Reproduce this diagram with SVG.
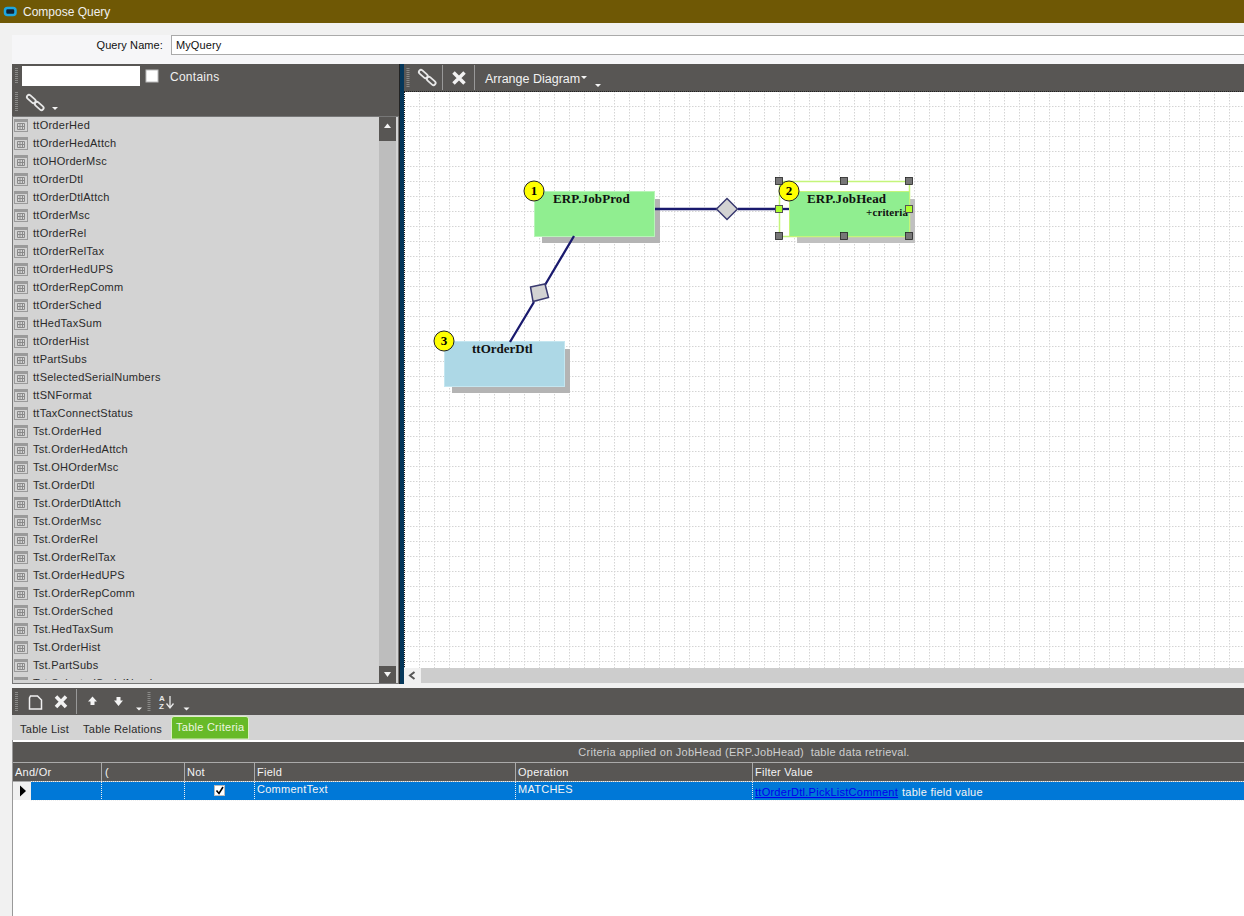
<svg xmlns="http://www.w3.org/2000/svg" width="1244" height="916" viewBox="0 0 1244 916">
<style>
text{font-family:"Liberation Sans",Arial,sans-serif;font-size:11px;fill:#111;letter-spacing:.26px;white-space:pre}
.w{fill:#f4f4f4}
.t{fill:#2a2a2a;font-size:11px}
.n{font-family:"Liberation Serif","Times New Roman",serif;font-size:13px;font-weight:bold;fill:#111;letter-spacing:.12px}
.b{font-family:"Liberation Serif","Times New Roman",serif;font-size:13px;font-weight:bold;text-anchor:middle;fill:#000;letter-spacing:0}
.h{fill:#777;stroke:#222;stroke-width:.8}
.c{stroke:#1a1a6e;stroke-width:2.300;fill:none}
.d{fill:#d3d3d3;stroke:#3a3a70;stroke-width:1.500}
.sep{stroke:#999;stroke-width:1}
.grip{stroke:#8a8a88;stroke-width:3;stroke-dasharray:1 1;fill:none}
.cell{stroke:#eee;stroke-width:1;stroke-dasharray:1 1}
.tri{fill:#f4f4f4}
</style>
<defs>
<pattern id="grid" x="404" y="91" width="15" height="15" patternUnits="userSpaceOnUse">
<path d="M.5 0V15M0 .5H15" fill="none" stroke="#d4d4d4" stroke-width="1" stroke-dasharray="1.500 1.500"/>
</pattern>
<filter id="soft" x="-10%" y="-10%" width="120%" height="120%"><feGaussianBlur stdDeviation=".5"/></filter>
<g id="ti">
<rect x="14.500" y="-5.500" width="13" height="12" fill="#d3d3d3" stroke="#9a9a9a"/>
<rect x="15" y="-5" width="12" height="2" fill="#9a9a9a"/>
<path d="M17.500 -1.500H24.500V4.500H17.500ZM17.500 1.500H24.500M20 -1.500V4.500M22.500 -1.500V4.500" fill="none" stroke="#8a8a8a" stroke-width="1"/>
</g>
<g id="lnk">
<path d="M-6 -5L-1.500 -1M2 2L6.500 6" stroke="#e8e8e8" stroke-width="6" stroke-linecap="round" fill="none"/>
<path d="M-6 -5L-1.500 -1M2 2L6.500 6" stroke="#585654" stroke-width="2.400" stroke-linecap="round" fill="none"/>
</g>
</defs>

<g id="background">
<rect width="1244" height="916" fill="#f1f1f1"/>
<rect y="0" width="1244" height="23" fill="#6f5805"/>
<rect x="5" y="8" width="10.500" height="7" rx="2.500" fill="#123" stroke="#1ea7e0" stroke-width="2.500"/>
<text x="23" y="16" style="fill:#f0f0f0;font-size:12px;letter-spacing:0">Compose Query</text>
<rect x="12" y="35" width="1232" height="29" fill="#f6f6f8"/>
<text x="163" y="49" text-anchor="end" style="letter-spacing:.1px">Query Name:</text>
<rect x="171.500" y="35.500" width="1080" height="19" fill="#fff" stroke="#aaa"/>
<text x="176" y="49" style="letter-spacing:.1px">MyQuery</text>
</g>

<g id="table-list-panel">
<rect x="12" y="64" width="388" height="52" fill="#585654"/>
<path class="grip" d="M16.500 68V84M16.500 92V112"/>
<rect x="22" y="66" width="118" height="20" fill="#fff"/>
<rect x="146" y="70" width="12" height="12" fill="#fff" stroke="#bbb"/>
<text x="170" y="81" style="fill:#f0f0f0;font-size:12px">Contains</text>
<use href="#lnk" x="35" y="102"/>
<path class="tri" d="M52 107H58L55 110Z"/>
<rect x="12.500" y="116.500" width="386" height="567" fill="#d3d3d3" stroke="#777"/>
<svg x="13" y="117" width="366" height="563" viewBox="13 117 366 563">
<g id="rows">
<use href="#ti" y="125"/><text class="t" x="33" y="129">ttOrderHed</text>
<use href="#ti" y="143"/><text class="t" x="33" y="147">ttOrderHedAttch</text>
<use href="#ti" y="161"/><text class="t" x="33" y="165">ttOHOrderMsc</text>
<use href="#ti" y="179"/><text class="t" x="33" y="183">ttOrderDtl</text>
<use href="#ti" y="197"/><text class="t" x="33" y="201">ttOrderDtlAttch</text>
<use href="#ti" y="215"/><text class="t" x="33" y="219">ttOrderMsc</text>
<use href="#ti" y="233"/><text class="t" x="33" y="237">ttOrderRel</text>
<use href="#ti" y="251"/><text class="t" x="33" y="255">ttOrderRelTax</text>
<use href="#ti" y="269"/><text class="t" x="33" y="273">ttOrderHedUPS</text>
<use href="#ti" y="287"/><text class="t" x="33" y="291">ttOrderRepComm</text>
<use href="#ti" y="305"/><text class="t" x="33" y="309">ttOrderSched</text>
<use href="#ti" y="323"/><text class="t" x="33" y="327">ttHedTaxSum</text>
<use href="#ti" y="341"/><text class="t" x="33" y="345">ttOrderHist</text>
<use href="#ti" y="359"/><text class="t" x="33" y="363">ttPartSubs</text>
<use href="#ti" y="377"/><text class="t" x="33" y="381">ttSelectedSerialNumbers</text>
<use href="#ti" y="395"/><text class="t" x="33" y="399">ttSNFormat</text>
<use href="#ti" y="413"/><text class="t" x="33" y="417">ttTaxConnectStatus</text>
<use href="#ti" y="431"/><text class="t" x="33" y="435">Tst.OrderHed</text>
<use href="#ti" y="449"/><text class="t" x="33" y="453">Tst.OrderHedAttch</text>
<use href="#ti" y="467"/><text class="t" x="33" y="471">Tst.OHOrderMsc</text>
<use href="#ti" y="485"/><text class="t" x="33" y="489">Tst.OrderDtl</text>
<use href="#ti" y="503"/><text class="t" x="33" y="507">Tst.OrderDtlAttch</text>
<use href="#ti" y="521"/><text class="t" x="33" y="525">Tst.OrderMsc</text>
<use href="#ti" y="539"/><text class="t" x="33" y="543">Tst.OrderRel</text>
<use href="#ti" y="557"/><text class="t" x="33" y="561">Tst.OrderRelTax</text>
<use href="#ti" y="575"/><text class="t" x="33" y="579">Tst.OrderHedUPS</text>
<use href="#ti" y="593"/><text class="t" x="33" y="597">Tst.OrderRepComm</text>
<use href="#ti" y="611"/><text class="t" x="33" y="615">Tst.OrderSched</text>
<use href="#ti" y="629"/><text class="t" x="33" y="633">Tst.HedTaxSum</text>
<use href="#ti" y="647"/><text class="t" x="33" y="651">Tst.OrderHist</text>
<use href="#ti" y="665"/><text class="t" x="33" y="669">Tst.PartSubs</text>
<use href="#ti" y="683"/><text class="t" x="33" y="687">Tst.SelectedSerialNumbers</text>
</g>
</svg>
<rect x="379" y="117" width="17" height="566" fill="#bdbdbd"/>
<rect x="379" y="117" width="17" height="24" fill="#585654"/>
<path class="tri" d="M384 128H391L387.500 123.500Z"/>
<rect x="379" y="666" width="17" height="17" fill="#585654"/>
<path class="tri" d="M384 672H391L387.500 677Z"/>
</g>

<g id="splitter">
<rect x="400" y="64" width="4" height="620" fill="#05375a"/>
<rect x="399" y="64" width="1" height="620" fill="#222"/>
</g>

<g id="diagram-canvas">
<rect x="404" y="92" width="840" height="576" fill="#fff"/>
<rect x="404" y="92" width="840" height="576" fill="url(#grid)"/>
<rect x="404" y="64" width="840" height="28" fill="#585654"/>
<path d="M404 91.500H1244M404.500 92V668" stroke="#222" stroke-width="1" stroke-dasharray="1 1" fill="none"/>
<path class="grip" d="M408 68V87"/>
<use href="#lnk" x="427" y="77"/>
<path class="sep" d="M442.500 65V90M474.500 65V90"/>
<path d="M453.500 72.500L464.500 83.500M464.500 72.500L453.500 83.500" stroke="#f2f2f2" stroke-width="3.500" fill="none"/>
<text x="485" y="83" style="fill:#f2f2f2;font-size:12.500px;letter-spacing:0">Arrange Diagram</text>
<path class="tri" d="M581 76H587L584 79ZM595 84H601L598 87Z"/>
<rect x="404" y="668" width="840" height="16" fill="#f0f0f0"/>
<rect x="421" y="668" width="823" height="15" fill="#cdcdcd"/>
<path d="M414.500 672L410 675.500L414.500 679" fill="none" stroke="#555" stroke-width="2"/>
</g>

<g id="node-1">
<rect x="542" y="199" width="118" height="44" fill="#b4b4b4" filter="url(#soft)"/>
<rect x="534.500" y="191.500" width="120" height="45" fill="#90ee90" stroke="#b8f5b8"/>
<text class="n" x="553" y="203">ERP.JobProd</text>
<circle cx="534" cy="191" r="10" fill="#ff0" stroke="#222"/>
<text class="b" x="534" y="195">1</text>
</g>

<g id="node-3">
<rect x="452" y="349" width="118" height="44" fill="#b4b4b4" filter="url(#soft)"/>
<rect x="444.500" y="341.500" width="120" height="45" fill="#add8e6" stroke="#c4e6f0"/>
<text class="n" x="472" y="353" style="letter-spacing:0">ttOrderDtl</text>
<circle cx="444" cy="341" r="10" fill="#ff0" stroke="#222"/>
<text class="b" x="444" y="345">3</text>
</g>

<g id="connectors">
<path class="c" d="M655 209H717M738 209H789"/>
<path class="c" d="M574 236L545 285M534 302L510 342"/>
<path class="d" d="M727 198.500L737.500 209L727 219.500L716.500 209Z"/>
<path class="d" d="M530.500 287L545 284L548.500 297.500L533 301.500Z"/>
</g>

<g id="node-2">
<rect x="797" y="199" width="118" height="44" fill="#c0c0c0" filter="url(#soft)"/>
<path d="M779.500 209V181.500H909.500V191H789.500V236.500H779.500V212Z" fill="#fff"/>
<path d="M779.500 181.500H909.500V236.500H779.500Z" fill="none" stroke="#c4f57a" stroke-width="1.500"/>
<rect x="789.500" y="191.500" width="120" height="45" fill="#90ee90" stroke="#c4f57a"/>
<path d="M779 209H789" class="c"/>
<text class="n" x="807" y="203">ERP.JobHead</text>
<text class="n" x="866" y="216" style="font-size:11px">+criteria</text>
<circle cx="789" cy="191" r="10" fill="#ff0" stroke="#222"/>
<text class="b" x="789" y="195">2</text>
<rect class="h" x="775.500" y="177.500" width="7" height="7"/>
<rect class="h" x="840.500" y="177.500" width="7" height="7"/>
<rect class="h" x="905.500" y="177.500" width="7" height="7"/>
<rect class="h" x="775.500" y="232.500" width="7" height="7"/>
<rect class="h" x="840.500" y="232.500" width="7" height="7"/>
<rect class="h" x="905.500" y="232.500" width="7" height="7"/>
<rect x="775.500" y="205.500" width="7" height="7" fill="#adff2f" stroke="#555"/>
<rect x="905.500" y="205.500" width="7" height="7" fill="#adff2f" stroke="#555"/>
</g>

<g id="bottom-panel">
<rect x="12" y="688" width="1232" height="27" fill="#585654"/>
<path class="grip" d="M16.500 692V711M149 692V711"/>
<path d="M30.500 696H37.500L41.500 700V709H29.500V698Z" fill="none" stroke="#f0f0f0" stroke-width="1.500"/>
<path d="M56 696.500L66 707M66 696.500L56 707" stroke="#f2f2f2" stroke-width="3.500" fill="none"/>
<path class="sep" d="M76.500 689V714"/>
<path class="tri" d="M92.500 696.500L97 701.500H94.500V705H90.500V701.500H88Z"/>
<path class="tri" d="M118.500 706L123 700.500H120.500V697H116.500V700.500H114Z"/>
<path class="tri" d="M136 707.500H142L139 710.500Z"/>
<text x="159" y="701" style="fill:#e8e8e8;font-size:8px;font-weight:bold;letter-spacing:0">A</text>
<text x="159" y="709" style="fill:#e8e8e8;font-size:8px;font-weight:bold;letter-spacing:0">Z</text>
<path d="M170 696V707M166.500 703.500L170 708L173.500 703.500" stroke="#e8e8e8" stroke-width="1.300" fill="none"/>
<path class="tri" d="M183.500 707.500H189.500L186.500 710.500Z"/>

<rect x="12" y="715" width="1232" height="25" fill="#d3d3d3"/>
<text x="20" y="733" class="t">Table List</text>
<text x="83" y="733" class="t">Table Relations</text>
<path d="M171.500 739V719Q171.500 716.500 174 716.500H246Q248.500 716.500 248.500 719V739Z" fill="#67ba28" stroke="#dff0c8"/>
<text x="176" y="731" style="fill:#eef6e0">Table Criteria</text>

<rect x="12" y="740" width="1232" height="176" fill="#fff"/>
<path d="M12.500 740V916" stroke="#999" fill="none"/>
<rect x="13" y="742" width="1231" height="20" fill="#585654"/>
<text x="744" y="756" text-anchor="middle" style="fill:#cfcfcf">Criteria applied on JobHead (ERP.JobHead)  table data retrieval.</text>
<rect x="13" y="763" width="1231" height="18" fill="#585654"/>
<path d="M13 762.500H1244M13 781.500H1244" stroke="#aaa" fill="none"/>
<path d="M101.500 763V781M184.500 763V781M254.500 763V781M515.500 763V781M752.500 763V781" stroke="#aaa" fill="none"/>
<text x="15" y="776" class="w">And/Or</text>
<text x="105" y="776" class="w">(</text>
<text x="187" y="776" class="w">Not</text>
<text x="257" y="776" class="w">Field</text>
<text x="518" y="776" class="w">Operation</text>
<text x="755" y="776" class="w">Filter Value</text>
<rect x="13" y="782" width="18" height="18" fill="#f0f0f0"/>
<path d="M20 785.500L26 791L20 796.500Z" fill="#000"/>
<rect x="31" y="782" width="1213" height="18" fill="#0078d7"/>
<path class="cell" d="M101.500 782V800M184.500 782V800M254.500 782V800M515.500 782V800M752.500 782V800M31 800.500H1244M31 781.500H1244"/>
<rect x="214.500" y="785.500" width="10" height="10" fill="#fff" stroke="#bbb"/>
<path d="M216.500 790.500L219 793.500L223 787" stroke="#000" stroke-width="1.600" fill="none"/>
<text x="257" y="793" class="w">CommentText</text>
<text x="518" y="793" class="w">MATCHES</text>
<text x="755" y="796" style="fill:#0000ee;text-decoration:underline">ttOrderDtl.PickListComment</text>
<text x="902" y="796" class="w">table field value</text>
</g>
</svg>
